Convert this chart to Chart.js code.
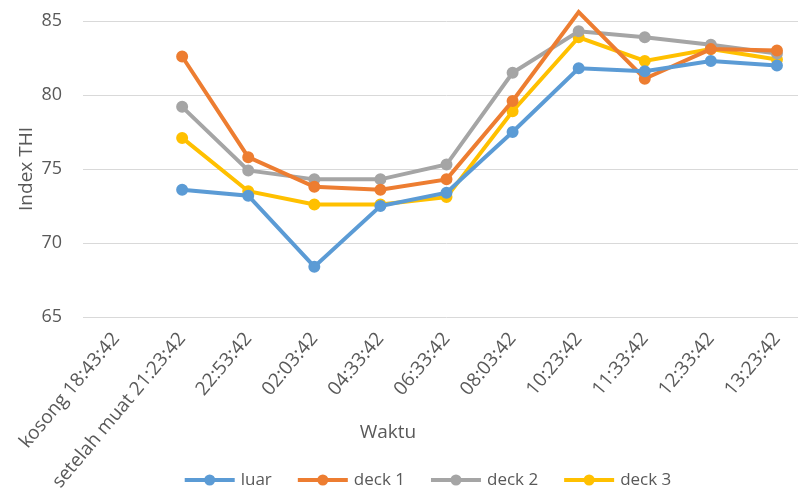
<!DOCTYPE html>
<html>
<head>
<meta charset="utf-8">
<script src="https://cdn.jsdelivr.net/npm/chart.js@4"></script>
<style>
  html, body { margin: 0; padding: 0; background: #fff; overflow: hidden; }
  #wrap { width: 798px; height: 493px; overflow: hidden; }
</style>
</head>
<body>
<div id="wrap"><canvas id="thiChart" width="817" height="493"></canvas></div>
<script>
const waktu = ['kosong 18:43:42', 'setelah muat 21:23:42', '22:53:42', '02:03:42', '04:33:42',
  '06:33:42', '08:03:42', '10:23:42', '11:33:42', '12:33:42', '13:23:42'];
const luar  = [null, 73.6, 73.2, 68.4, 72.5, 73.4, 77.5, 81.8, 81.6, 82.3, 82.0];
const deck1 = [null, 82.6, 75.8, 73.8, 73.6, 74.3, 79.6, 85.6, 81.1, 83.1, 83.0];
const deck2 = [null, 79.2, 74.9, 74.3, 74.3, 75.3, 81.5, 84.3, 83.9, 83.4, 82.8];
const deck3 = [null, 77.1, 73.5, 72.6, 72.6, 73.1, 78.9, 83.9, 82.3, 83.1, 82.4];
const yTicks = [65, 70, 75, 80, 85];

const textColor = '#595959';
const fontFamily = "'Open Sans', sans-serif";
const colors = ['#5B9BD5', '#ED7D31', '#A5A5A5', '#FFC000'];

function series(label, data, color) {
    return {
        label: label,
        data: data,
        borderColor: color,
        backgroundColor: color,
        borderWidth: 4,
        pointRadius: 5,
        pointBorderWidth: 2,
        pointHoverRadius: 5,
        tension: 0,
        clip: false
    };
}

// x axis title drawn by hand, Excel centres it left of the plot middle
const waktuTitle = {
    id: 'waktuTitle',
    afterDraw(chart) {
        const ctx = chart.ctx;
        ctx.save();
        ctx.font = '19px ' + fontFamily;
        ctx.fillStyle = textColor;
        ctx.textAlign = 'center';
        ctx.textBaseline = 'middle';
        ctx.fillText('Waktu', 388, 433);
        ctx.restore();
    }
};

// legend overlaps the long rotated label area, so it is drawn here instead of taking layout space
const lineLegend = {
    id: 'lineLegend',
    afterDraw(chart) {
        const ctx = chart.ctx;
        const sets = chart.data.datasets;
        const iconW = 50, gap = 6, spacing = 26;
        ctx.save();
        ctx.font = '17px ' + fontFamily;
        const widths = sets.map(ds => iconW + gap + ctx.measureText(ds.label).width);
        const total = widths.reduce((a, b) => a + b, 0) + spacing * (sets.length - 1);
        let x = 428 - total / 2;
        const y = 480;
        sets.forEach((ds, i) => {
            ctx.strokeStyle = ds.borderColor;
            ctx.lineWidth = 4;
            ctx.beginPath();
            ctx.moveTo(x, y);
            ctx.lineTo(x + iconW, y);
            ctx.stroke();
            ctx.fillStyle = ds.borderColor;
            ctx.beginPath();
            ctx.arc(x + iconW / 2, y, 5.5, 0, Math.PI * 2);
            ctx.fill();
            ctx.fillStyle = textColor;
            ctx.textAlign = 'left';
            ctx.textBaseline = 'middle';
            ctx.fillText(ds.label, x + iconW + gap, y);
            x += widths[i] + spacing;
        });
        ctx.restore();
    }
};

const ctx = document.getElementById('thiChart').getContext('2d');
new Chart(ctx, {
    type: 'line',
    data: {
        labels: waktu,
        datasets: [
            series('luar', luar, colors[0]),
            series('deck 1', deck1, colors[1]),
            series('deck 2', deck2, colors[2]),
            series('deck 3', deck3, colors[3])
        ]
    },
    plugins: [waktuTitle, lineLegend],
    options: {
        responsive: false,
        animation: false,
        devicePixelRatio: 1,
        layout: { padding: { top: 21, right: 0, bottom: 0, left: 0 } },
        plugins: {
            tooltip: { enabled: false },
            legend: { display: false }
        },
        scales: {
            x: {
                offset: true,
                grid: { display: false },
                border: { display: false },
                ticks: {
                    color: textColor,
                    font: { family: fontFamily, size: 19 },
                    minRotation: 50,
                    maxRotation: 50,
                    padding: 3,
                    autoSkip: false
                },
                afterFit(scale) {
                    scale.height = 176;
                    scale.paddingTop = 0;
                    scale.paddingBottom = 0;
                }
            },
            y: {
                min: 65,
                max: 85,
                afterBuildTicks(scale) { scale.ticks = yTicks.map(v => ({ value: v })); },
                grid: { color: '#D9D9D9', lineWidth: 1, drawTicks: false },
                border: { display: false },
                ticks: {
                    color: textColor,
                    font: { family: fontFamily, size: 18 },
                    padding: 21
                },
                title: {
                    display: true,
                    text: 'Index THI',
                    color: textColor,
                    font: { family: fontFamily, size: 19 },
                    padding: { top: 15, bottom: 0 }
                },
                afterFit(scale) {
                    scale.width = 83;
                    scale.paddingTop = 0;
                    scale.paddingBottom = 0;
                }
            }
        }
    }
});
</script>
</body>
</html>
